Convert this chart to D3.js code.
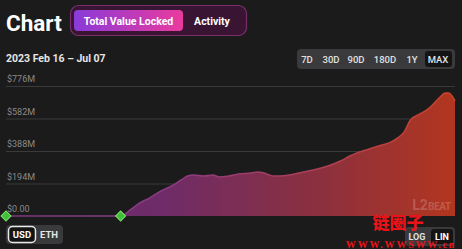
<!DOCTYPE html>
<html><head><meta charset="utf-8">
<script src="https://cdn.jsdelivr.net/npm/d3@7"></script>
<style>
html,body{margin:0;padding:0;background:#1b1b1b;}
svg{display:block;font-family:Roboto,"Noto Sans",sans-serif;}
</style></head>
<body><svg id="c" width="462" height="249"></svg>
<script>
// Data (TVL in $M, days after 2023-02-16)
const days   = [0,36,39,42,45,48,52,55,57,59,62,65,67,70,73,77,79,81,84,86,89,92,95,99,102,105,108,111,114,117,121,123,125,127,130,133,136,138,139,141];
const tvlM   = [0,0,36,78,107,143,179,215,239,245,239,245,233,239,251,257,263,257,239,239,245,257,269,287,304,328,358,382,400,418,442,466,501,573,609,645,704,734,734,687];
const yTicks = [0,194,388,582,776];
const yTickLabels = ["$0.00","$194M","$388M","$582M","$776M"];
const ranges = ["7D","30D","90D","180D","1Y","MAX"];
const markers = [0,36];

const svg = d3.select("#c");
const start = new Date(2023,1,16);
const data = days.map((d,i)=>({date:d3.timeDay.offset(start,d), v:tvlM[i]}));

const x = d3.scaleTime().domain([start, d3.timeDay.offset(start,141)]).range([6,455]);
const y = d3.scaleLinear().domain([0,776]).range([216,86]);

// header
svg.append("text").attr("x",6).attr("y",31).attr("fill","#fff").attr("font-size",22.5).attr("font-weight",700).text("Chart");
svg.append("rect").attr("x",70.5).attr("y",5.5).attr("width",176).attr("height",30).attr("rx",8)
  .attr("fill","#3a1533").attr("stroke","#7a2f6c").attr("stroke-width",1.2);
const defs = svg.append("defs");
const bg = defs.append("linearGradient").attr("id","btn");
bg.append("stop").attr("offset","0%").attr("stop-color","#8a3ad9");
bg.append("stop").attr("offset","100%").attr("stop-color","#ea3b9d");
svg.append("rect").attr("x",74).attr("y",10).attr("width",109).attr("height",21).attr("rx",4).attr("fill","url(#btn)");
svg.append("text").attr("x",128.5).attr("y",24.5).attr("text-anchor","middle").attr("fill","#fff").attr("font-size",10.5).attr("font-weight",700).text("Total Value Locked");
svg.append("text").attr("x",212).attr("y",24.5).attr("text-anchor","middle").attr("fill","#fff").attr("font-size",10.5).attr("font-weight",700).text("Activity");

svg.append("text").attr("x",6).attr("y",62).attr("fill","#e6e6e6").attr("font-size",10.5).attr("font-weight",700).text("2023 Feb 16 \u2013 Jul 07");

// range buttons
svg.append("rect").attr("x",297).attr("y",49).attr("width",158).attr("height",20).attr("rx",4).attr("fill","#3a3a3c");
const rx = [307,331,356,385,412,438];
ranges.forEach((r,i)=>{
  if(r==="MAX") svg.append("rect").attr("x",425).attr("y",51).attr("width",27).attr("height",16).attr("rx",3).attr("fill","#141414");
  svg.append("text").attr("x",rx[i]).attr("y",63).attr("text-anchor","middle").attr("fill","#e0e0e0").attr("font-size",9.5).attr("font-weight",500).text(r);
});

// grid
const g = svg.append("g");
yTicks.forEach((t,i)=>{
  if(i>0) g.append("line").attr("x1",6).attr("x2",455).attr("y1",y(t)+0.5).attr("y2",y(t)+0.5).attr("stroke","#3a3a3a").attr("stroke-width",1);
  g.append("text").attr("x",7).attr("y",y(t)-4).attr("fill","#8a8a8a").attr("font-size",9).text(yTickLabels[i]);
});

// area gradient
const ag = defs.append("linearGradient").attr("id","ag").attr("gradientUnits","userSpaceOnUse")
  .attr("x1",x.range()[0]).attr("x2",x.range()[1]).attr("y1",0).attr("y2",0);
ag.append("stop").attr("offset","0%").attr("stop-color","#6a2a6e");
ag.append("stop").attr("offset","35%").attr("stop-color","#6e2c68");
ag.append("stop").attr("offset","70%").attr("stop-color","#8c303e");
ag.append("stop").attr("offset","100%").attr("stop-color","#b2361f");
const lg = defs.append("linearGradient").attr("id","lg").attr("gradientUnits","userSpaceOnUse")
  .attr("x1",x.range()[0]).attr("x2",x.range()[1]).attr("y1",0).attr("y2",0);
lg.append("stop").attr("offset","0%").attr("stop-color","#7e3580");
lg.append("stop").attr("offset","35%").attr("stop-color","#8a3a85");
lg.append("stop").attr("offset","100%").attr("stop-color","#cc432a");

const area = d3.area().x(d=>x(d.date)).y0(y(0)).y1(d=>y(d.v)).curve(d3.curveMonotoneX);
const line = d3.line().x(d=>x(d.date)).y(d=>y(d.v)).curve(d3.curveMonotoneX);
svg.append("path").datum(data).attr("d",area).attr("fill","url(#ag)");
svg.append("path").datum(data).attr("d",line).attr("fill","none").attr("stroke","url(#lg)").attr("stroke-width",1.5);

// markers
markers.forEach(m=>{
  const cx = x(d3.timeDay.offset(start,m)), cy = y(0);
  svg.append("rect").attr("x",cx-3.5).attr("y",cy-3.5).attr("width",7).attr("height",7)
    .attr("transform",`rotate(45,${cx},${cy})`).attr("fill","#3fbf3a").attr("stroke","#7ee06a").attr("stroke-width",1);
});

// L2BEAT watermark
const wm = svg.append("text").attr("x",451).attr("y",210).attr("text-anchor","end").attr("fill","rgba(255,255,255,0.2)").attr("font-weight",700);
wm.append("tspan").attr("font-size",14).text("L2");
wm.append("tspan").attr("font-size",10).attr("letter-spacing",-0.3).text("BEAT");

// USD/ETH
svg.append("rect").attr("x",6).attr("y",225).attr("width",57).attr("height",19).attr("rx",4).attr("fill","#3a3a3c");
svg.append("rect").attr("x",8.5).attr("y",226.5).attr("width",27).attr("height",16).attr("rx",4).attr("fill","#141414").attr("stroke","#e8e8e8").attr("stroke-width",1.5);
svg.append("text").attr("x",22).attr("y",238).attr("text-anchor","middle").attr("fill","#fff").attr("font-size",9.5).attr("font-weight",700).text("USD");
svg.append("text").attr("x",49).attr("y",238).attr("text-anchor","middle").attr("fill","#e6e6e6").attr("font-size",9.5).attr("font-weight",700).text("ETH");

// LOG/LIN
svg.append("rect").attr("x",405).attr("y",227).attr("width",50).attr("height",19).attr("rx",4).attr("fill","#3a3a3c");
svg.append("rect").attr("x",431).attr("y",229).attr("width",22).attr("height",15).attr("rx",3).attr("fill","#141414");
svg.append("text").attr("x",417).attr("y",240).attr("text-anchor","middle").attr("fill","#e0e0e0").attr("font-size",9).attr("font-weight",700).text("LOG");
svg.append("text").attr("x",442).attr("y",240).attr("text-anchor","middle").attr("fill","#fff").attr("font-size",9).attr("font-weight",700).text("LIN");

// site watermark
svg.append("text").attr("x",398).attr("y",229).attr("text-anchor","middle").attr("fill","#e8141a").attr("font-size",17).attr("font-weight",900).attr("font-family","'Noto Sans CJK SC'").text("链圈子");
svg.append("text").attr("x",401).attr("y",248).attr("text-anchor","middle").attr("fill","#e8141a").attr("font-size",10).attr("font-weight",700).attr("font-family","'Liberation Serif',serif").attr("letter-spacing",1.8).text("WWW.WWSWW.cn");
</script></body></html>
